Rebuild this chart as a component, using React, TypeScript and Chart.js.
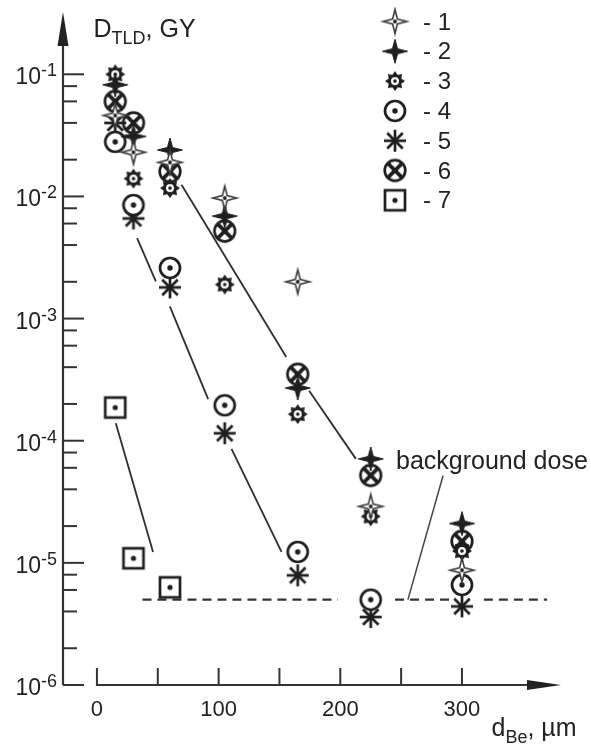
import React, { useEffect, useRef } from "react";
import { Chart, registerables } from "chart.js";

Chart.register(...registerables);

// ---- data ----
const thickness = [15, 30, 60, 105, 165, 225, 300]; // d_Be, µm
const series1 = [0.046, 0.023, 0.019, 0.0097, 0.002, 2.9e-5, 8.7e-6];
const series2 = [0.082, 0.031, 0.024, 0.0069, 2.7e-4, 7.1e-5, 2.1e-5];
const series3 = [0.1, 0.014, 0.0117, 0.0019, 1.65e-4, 2.4e-5, 1.25e-5];
const series4 = [0.028, 0.0085, 0.0026, 1.95e-4, 1.23e-5, 5.0e-6, 6.6e-6];
const series5 = [0.04, 0.0066, 0.0018, 1.15e-4, 7.9e-6, 3.6e-6, 4.4e-6];
const series6 = [0.06, 0.04, 0.016, 0.0052, 3.5e-4, 5.2e-5, 1.5e-5];
const thickness7 = [15, 30, 60];
const series7 = [1.87e-4, 1.09e-5, 6.3e-6];
const seriesLabels = ["- 1", "- 2", "- 3", "- 4", "- 5", "- 6", "- 7"];

// fitted lines: [x1, y1, x2, y2]
const fitLines = [
  [69.5, 0.01245, 155.6, 4.85e-4],
  [174.4, 2.56e-4, 212.8, 7.1e-5],
  [33, 0.00456, 48.4, 0.00202],
  [59.9, 1.26e-3, 91.4, 2.19e-4],
  [110.6, 8.57e-5, 151.7, 1.23e-5],
  [15.5, 1.39e-4, 46.1, 1.23e-5],
];
const backgroundDose = 5e-6;
const backgroundSegments = [
  [37.4, 198],
  [245, 290],
  [318, 370],
];
const leaderLine = [284.5, 5.19e-5, 255.6, 5e-6];
const backgroundLabel = "background dose";

const xTicks = [0, 50, 100, 150, 200, 250, 300];
const xTickLabels = [0, 100, 200, 300];
const yExponents = [-1, -2, -3, -4, -5, -6];
const yMinorMultipliers = [2, 4, 6, 8];

const X_MIN = -27.9;
const X_MAX = 381.4;
const Y_MIN = 1e-6;
const Y_MAX = Math.pow(10, -0.49);

const INK = "#1f1f1f";
const FONT = '"Liberation Sans", Arial, Helvetica, sans-serif';

function makeMarker(kind: number): HTMLCanvasElement {
  const c = document.createElement("canvas");
  c.width = 30;
  c.height = 30;
  const g = c.getContext("2d")!;
  g.translate(15, 15);
  g.fillStyle = INK;
  g.strokeStyle = INK;
  const dot = (r: number) => {
    g.beginPath();
    g.arc(0, 0, r, 0, Math.PI * 2);
    g.fillStyle = INK;
    g.fill();
  };
  const star = (n: number, Rx: number, Ry: number, r: number) => {
    g.beginPath();
    for (let i = 0; i < n * 2; i++) {
      const a = -Math.PI / 2 + (i * Math.PI) / n;
      const px = Math.cos(a) * (i % 2 === 0 ? Rx : r);
      const py = Math.sin(a) * (i % 2 === 0 ? Ry : r);
      if (i === 0) g.moveTo(px, py);
      else g.lineTo(px, py);
    }
    g.closePath();
  };
  if (kind === 1) {
    star(4, 12, 12, 3.4);
    g.fillStyle = "#fff";
    g.fill();
    g.lineWidth = 1.6;
    g.strokeStyle = "#3a3a3a";
    g.stroke();
    dot(1.9);
  } else if (kind === 2) {
    star(4, 12.5, 12, 3.6);
    g.fillStyle = INK;
    g.fill();
    g.lineWidth = 1;
    g.stroke();
  } else if (kind === 3) {
    star(8, 10, 10, 6.8);
    g.fillStyle = INK;
    g.fill();
    g.beginPath();
    g.arc(0, 0, 4, 0, Math.PI * 2);
    g.fillStyle = "#fff";
    g.fill();
    dot(1.8);
  } else if (kind === 4) {
    g.beginPath();
    g.arc(0, 0, 10, 0, Math.PI * 2);
    g.fillStyle = "#fff";
    g.fill();
    g.lineWidth = 2.7;
    g.stroke();
    dot(2.7);
  } else if (kind === 5) {
    g.lineWidth = 2.7;
    g.lineCap = "butt";
    for (let i = 0; i < 4; i++) {
      const a = (i * Math.PI) / 4;
      g.beginPath();
      g.moveTo(Math.cos(a) * 11, Math.sin(a) * 11);
      g.lineTo(-Math.cos(a) * 11, -Math.sin(a) * 11);
      g.stroke();
    }
    dot(3);
  } else if (kind === 6) {
    g.beginPath();
    g.arc(0, 0, 10.3, 0, Math.PI * 2);
    g.fillStyle = "#fff";
    g.fill();
    g.lineWidth = 2.7;
    g.stroke();
    g.lineWidth = 3.8;
    g.beginPath();
    g.moveTo(-7.3, -7.3);
    g.lineTo(7.3, 7.3);
    g.moveTo(7.3, -7.3);
    g.lineTo(-7.3, 7.3);
    g.stroke();
    dot(2.6);
  } else {
    g.fillStyle = "#fff";
    g.fillRect(-10, -10, 20, 20);
    g.lineWidth = 2.7;
    g.strokeRect(-10, -10, 20, 20);
    dot(2.6);
  }
  return c;
}

const axesPlugin = {
  id: "customAxes",
  beforeDatasetsDraw(chart: any) {
    const { ctx, scales } = chart;
    const xs = scales.x;
    const ys = scales.y;
    const ax = xs.getPixelForValue(X_MIN);
    const ay = ys.getPixelForValue(Y_MIN);
    const topY = ys.getPixelForValue(Y_MAX);
    const rightX = xs.getPixelForValue(X_MAX);
    ctx.save();
    ctx.strokeStyle = "#333";
    ctx.fillStyle = "#222";
    ctx.lineWidth = 2.2;
    // y axis with arrow
    ctx.beginPath();
    ctx.moveTo(ax, ay);
    ctx.lineTo(ax, topY + 20);
    ctx.stroke();
    ctx.beginPath();
    ctx.moveTo(ax, topY);
    ctx.lineTo(ax - 5.5, topY + 34);
    ctx.lineTo(ax + 5.5, topY + 34);
    ctx.closePath();
    ctx.fill();
    // y ticks
    ctx.lineWidth = 2;
    yExponents.forEach((e) => {
      const py = ys.getPixelForValue(Math.pow(10, e));
      ctx.beginPath();
      ctx.moveTo(ax, py);
      ctx.lineTo(ax + 21, py);
      ctx.stroke();
    });
    for (let e = -6; e <= -2; e++) {
      yMinorMultipliers.forEach((m) => {
        const py = ys.getPixelForValue(m * Math.pow(10, e));
        ctx.beginPath();
        ctx.moveTo(ax, py);
        ctx.lineTo(ax + 14, py);
        ctx.stroke();
      });
    }
    // y tick labels 10^e
    ctx.textBaseline = "alphabetic";
    ctx.textAlign = "left";
    yExponents.forEach((e) => {
      const py = ys.getPixelForValue(Math.pow(10, e));
      ctx.font = `18px ${FONT}`;
      const sup = `${e}`;
      const supW = ctx.measureText(sup).width;
      ctx.font = `23px ${FONT}`;
      const baseW = ctx.measureText("10").width;
      const right = 57;
      ctx.fillText("10", right - supW - baseW, py + 10);
      ctx.font = `18px ${FONT}`;
      ctx.fillText(sup, right - supW, py + 2);
    });
    // x axis with arrow
    const x0 = xs.getPixelForValue(0);
    ctx.lineWidth = 2.2;
    ctx.beginPath();
    ctx.moveTo(x0 - 1, ay);
    ctx.lineTo(rightX - 20, ay);
    ctx.stroke();
    ctx.beginPath();
    ctx.moveTo(rightX, ay);
    ctx.lineTo(rightX - 34, ay - 5);
    ctx.lineTo(rightX - 34, ay + 5);
    ctx.closePath();
    ctx.fill();
    ctx.lineWidth = 2;
    xTicks.forEach((t) => {
      const px = xs.getPixelForValue(t);
      ctx.beginPath();
      ctx.moveTo(px, ay);
      ctx.lineTo(px, ay - 17);
      ctx.stroke();
    });
    ctx.font = `22px ${FONT}`;
    ctx.textAlign = "center";
    xTickLabels.forEach((t) => {
      ctx.fillText(String(t), xs.getPixelForValue(t), ay + 31);
    });
    // x title: d_Be, µm
    ctx.textAlign = "left";
    let tx = 491.5;
    ctx.font = `25px ${FONT}`;
    ctx.fillText("d", tx, 736);
    tx += ctx.measureText("d").width;
    ctx.font = `18px ${FONT}`;
    ctx.fillText("Be", tx, 743);
    tx += ctx.measureText("Be").width;
    ctx.font = `25px ${FONT}`;
    ctx.fillText(", \u00b5m", tx, 736);
    // y title: D_TLD, GY
    tx = 93.5;
    ctx.fillText("D", tx, 37);
    tx += ctx.measureText("D").width;
    ctx.font = `18px ${FONT}`;
    ctx.fillText("TLD", tx, 44);
    tx += ctx.measureText("TLD").width;
    ctx.font = `25px ${FONT}`;
    ctx.fillText(", GY", tx, 37);
    // background dose label
    ctx.font = `25px ${FONT}`;
    ctx.fillText(backgroundLabel, 396, 469);
    ctx.restore();
  },
  afterDatasetsDraw(chart: any) {
    const { ctx } = chart;
    ctx.save();
    const markerDatasets = chart.data.datasets.filter((d: any) => d.isSeries);
    markerDatasets.forEach((d: any, i: number) => {
      const cy = 21.5 + i * 29.8;
      const img = d.pointStyle as HTMLCanvasElement;
      ctx.drawImage(img, 395 - img.width / 2, cy - img.height / 2);
      ctx.fillStyle = "#222";
      ctx.font = `24px ${FONT}`;
      ctx.textAlign = "left";
      ctx.textBaseline = "alphabetic";
      ctx.fillText(d.label, 423, cy + 8);
    });
    ctx.restore();
  },
};

export default function App() {
  const ref = useRef<HTMLCanvasElement>(null);
  useEffect(() => {
    if (!ref.current) return;
    const allSeries = [series1, series2, series3, series4, series5, series6];
    const markerSets: any[] = allSeries.map((s, i) => ({
      label: seriesLabels[i],
      isSeries: true,
      data: thickness.map((x, j) => ({ x, y: s[j] })),
      showLine: false,
      pointStyle: makeMarker(i + 1),
      pointRadius: 11,
      order: 0,
    }));
    markerSets.push({
      label: seriesLabels[6],
      isSeries: true,
      data: thickness7.map((x, j) => ({ x, y: series7[j] })),
      showLine: false,
      pointStyle: makeMarker(7),
      pointRadius: 11,
      order: 0,
    });
    const lineSets: any[] = fitLines.map((l) => ({
      label: "fit",
      data: [
        { x: l[0], y: l[1] },
        { x: l[2], y: l[3] },
      ],
      showLine: true,
      borderColor: "#2e2e2e",
      borderWidth: 1.8,
      pointRadius: 0,
      order: 1,
    }));
    const bgData: any[] = [];
    backgroundSegments.forEach((seg, i) => {
      if (i > 0) bgData.push({ x: (backgroundSegments[i - 1][1] + seg[0]) / 2, y: null });
      bgData.push({ x: seg[0], y: backgroundDose });
      bgData.push({ x: seg[1], y: backgroundDose });
    });
    lineSets.push({
      label: "background",
      data: bgData,
      showLine: true,
      spanGaps: false,
      borderColor: "#333",
      borderWidth: 2.3,
      borderDash: [9, 6],
      pointRadius: 0,
      order: 1,
    });
    lineSets.push({
      label: "leader",
      data: [
        { x: leaderLine[0], y: leaderLine[1] },
        { x: leaderLine[2], y: leaderLine[3] },
      ],
      showLine: true,
      borderColor: "#444",
      borderWidth: 1.5,
      pointRadius: 0,
      order: 1,
    });
    const chart = new Chart(ref.current, {
      type: "scatter",
      data: { datasets: [...markerSets, ...lineSets] },
      options: {
        responsive: false,
        maintainAspectRatio: false,
        devicePixelRatio: 1,
        animation: false,
        layout: { padding: { left: 63, right: 30, top: 10, bottom: 59 } },
        scales: {
          x: { type: "linear", min: X_MIN, max: X_MAX, display: false },
          y: { type: "logarithmic", min: Y_MIN, max: Y_MAX, display: false },
        },
        plugins: { legend: { display: false }, tooltip: { enabled: false } },
        elements: { line: { tension: 0 } },
      } as any,
      plugins: [axesPlugin],
    } as any);
    return () => chart.destroy();
  }, []);
  return (
    <div style={{ position: "fixed", left: 0, top: 0, width: 591, height: 744, background: "#fff" }}>
      <canvas ref={ref} width={591} height={744} style={{ display: "block", width: 591, height: 744 }} />
    </div>
  );
}
